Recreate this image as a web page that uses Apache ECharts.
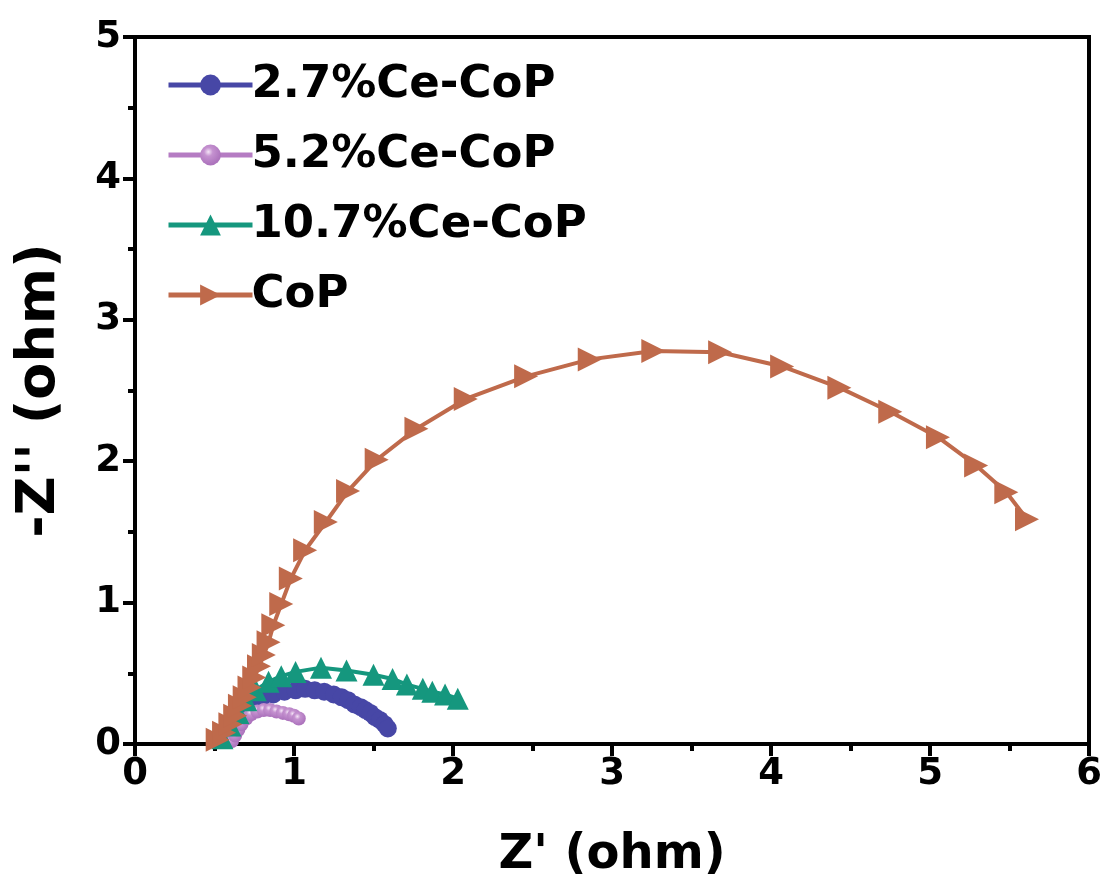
<!DOCTYPE html>
<html>
<head>
<meta charset="utf-8">
<script src="https://cdn.jsdelivr.net/npm/echarts@6/dist/echarts.min.js"></script>
<style>
html,body{margin:0;padding:0;background:#fff;}
#chart{width:1110px;height:885px;}
</style>
</head>
<body>
<div id="chart"></div>
<script>
// Series names
const seriesNames = ['2.7%Ce-CoP', '5.2%Ce-CoP', '10.7%Ce-CoP', 'CoP'];

// [Z', -Z''] pairs
const ce27 = [[0.56,0.03],[0.60,0.10],[0.64,0.17],[0.68,0.24],[0.73,0.29],[0.80,0.33],[0.87,0.35],[0.94,0.37],[1.01,0.38],[1.07,0.39],[1.13,0.38],[1.19,0.37],[1.25,0.35],[1.30,0.33],[1.34,0.31],[1.38,0.28],[1.42,0.26],[1.45,0.24],[1.48,0.22],[1.51,0.19],[1.54,0.17],[1.57,0.14],[1.59,0.11]];
const ce52 = [[0.61,0.02],[0.63,0.06],[0.65,0.10],[0.67,0.14],[0.70,0.18],[0.73,0.21],[0.77,0.23],[0.81,0.24],[0.85,0.24],[0.89,0.23],[0.93,0.22],[0.97,0.21],[1.00,0.20],[1.03,0.18]];
const ce107 = [[0.55,0.04],[0.60,0.13],[0.65,0.22],[0.70,0.31],[0.76,0.38],[0.84,0.44],[0.92,0.48],[1.01,0.51],[1.17,0.54],[1.33,0.52],[1.50,0.49],[1.62,0.46],[1.71,0.42],[1.81,0.39],[1.87,0.37],[1.95,0.35],[2.03,0.32]];
const cop = [[0.52,0.03],[0.56,0.08],[0.60,0.14],[0.63,0.20],[0.66,0.27],[0.69,0.33],[0.72,0.40],[0.75,0.47],[0.78,0.55],[0.81,0.63],[0.84,0.72],[0.87,0.84],[0.92,0.99],[0.98,1.17],[1.07,1.37],[1.20,1.57],[1.34,1.79],[1.52,2.01],[1.77,2.23],[2.08,2.44],[2.46,2.60],[2.86,2.72],[3.26,2.78],[3.68,2.77],[4.07,2.67],[4.43,2.52],[4.75,2.35],[5.05,2.17],[5.29,1.97],[5.48,1.78],[5.61,1.59]];

const xTicks = [0,1,2,3,4,5,6];
const yTicks = [0,1,2,3,4,5];

const FONT = 'DejaVu Sans';
const chart = echarts.init(document.getElementById('chart'), null, {renderer:'canvas'});

function lineSeries(name, data, color, symbol, size, extra) {
  return Object.assign({
    name: name,
    type: 'line',
    data: data,
    symbol: symbol,
    symbolSize: size,
    showSymbol: true,
    lineStyle: {color: color, width: 4},
    itemStyle: {color: color, borderWidth: 0},
    emphasis: {disabled: true},
    animation: false,
    z: 3
  }, extra || {});
}

const pinkGrad = new echarts.graphic.RadialGradient(0.4, 0.35, 0.6, [
  {offset: 0, color: '#f4e4f6'},
  {offset: 0.35, color: '#c592d0'},
  {offset: 1, color: '#ad74bd'}
]);

const option = {
  backgroundColor: '#ffffff',
  animation: false,
  grid: {left: 135, right: 21, top: 37, bottom: 141, show: true, borderColor: '#000', borderWidth: 4, backgroundColor: 'transparent'},
  legend: {
    orient: 'vertical',
    left: 161,
    top: 56,
    itemWidth: 84,
    itemHeight: 26,
    itemGap: 22,
    data: seriesNames,
    lineStyle: {width: 5},
    textStyle: {fontFamily: FONT, fontWeight: 'bold', fontSize: 45, color: '#000', lineHeight: 48, padding: [0,0,0,-6]}
  },
  xAxis: {
    type: 'value',
    min: 0, max: 6, interval: 1,
    name: "Z' (ohm)",
    nameLocation: 'middle',
    nameGap: 88,
    nameTextStyle: {fontFamily: FONT, fontWeight: 'bold', fontSize: 48, color: '#000'},
    axisLine: {show: true, onZero: false, lineStyle: {color: '#000', width: 4}},
    axisTick: {show: true, inside: false, length: 12, lineStyle: {color: '#000', width: 4}},
    minorTick: {show: true, splitNumber: 2, length: 7, lineStyle: {color: '#000', width: 4}},
    axisLabel: {margin: 12, fontFamily: FONT, fontWeight: 'bold', fontSize: 37, color: '#000',
      formatter: v => xTicks.indexOf(v) >= 0 ? String(v) : ''},
    splitLine: {show: false}
  },
  yAxis: {
    type: 'value',
    min: 0, max: 5, interval: 1,
    name: "-Z'' (ohm)",
    nameLocation: 'middle',
    nameGap: 68,
    nameTextStyle: {fontFamily: FONT, fontWeight: 'bold', fontSize: 54, color: '#000'},
    axisLine: {show: true, onZero: false, lineStyle: {color: '#000', width: 4}},
    axisTick: {show: true, inside: false, length: 12, lineStyle: {color: '#000', width: 4}},
    minorTick: {show: true, splitNumber: 2, length: 7, lineStyle: {color: '#000', width: 4}},
    axisLabel: {margin: 14, fontFamily: FONT, fontWeight: 'bold', fontSize: 37, color: '#000',
      formatter: v => yTicks.indexOf(v) >= 0 ? String(v) : ''},
    splitLine: {show: false}
  },
  series: [
    lineSeries(seriesNames[0], ce27, '#4747a6', 'circle', 18),
    lineSeries(seriesNames[1], ce52, '#b57cc3', 'circle', 14, {itemStyle: {color: pinkGrad, borderWidth: 0}}),
    lineSeries(seriesNames[2], ce107, '#15977e', 'triangle', 22),
    lineSeries(seriesNames[3], cop, '#bf6a4b', 'triangle', 24, {symbolRotate: -90})
  ]
};
chart.setOption(option);
</script>
</body>
</html>
